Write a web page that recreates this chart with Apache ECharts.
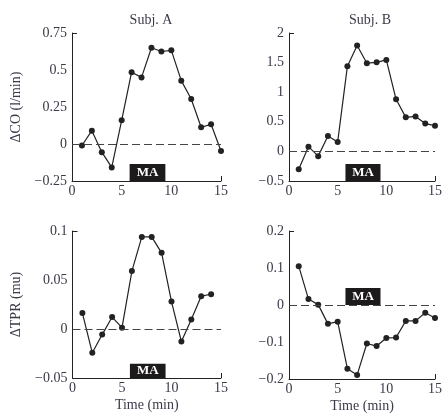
<!DOCTYPE html>
<html>
<head>
<meta charset="utf-8">
<script src="https://cdn.jsdelivr.net/npm/echarts@6/dist/echarts.min.js"></script>
<style>html,body{margin:0;padding:0;background:#fff;}#c{width:445px;height:414px;}</style>
</head>
<body>
<div id="c"></div>
<script>
// Time axis (min)
const timeA = [1,2,3,4,5,6,7,8,9,10,11,12,13,14,15];
const timeB = [1,2,3,4,5,6,7,8,9,10,11,12,13,14,15];
const timeC = [1,2,3,4,5,6,7,8,9,10,11,12,13,14];
const timeD = [1,2,3,4,5,6,7,8,9,10,11,12,13,14,15];
// ΔCO (l/min)
const coA = [-0.01,0.09,-0.055,-0.158,0.16,0.485,0.45,0.65,0.625,0.633,0.428,0.304,0.113,0.133,-0.047];
const coB = [-0.30,0.08,-0.08,0.26,0.16,1.44,1.79,1.49,1.505,1.545,0.88,0.575,0.59,0.47,0.435];
// ΔTPR (mu)
const tprA = [0.0162,-0.0243,-0.0057,0.0122,0.0014,0.0591,0.094,0.094,0.0777,0.028,-0.0128,0.0098,0.0334,0.0355];
const tprB = [0.105,0.016,0.001,-0.051,-0.045,-0.172,-0.189,-0.104,-0.111,-0.089,-0.088,-0.043,-0.043,-0.021,-0.035];
// MA (mental arithmetic) period
const maStart = 5.8, maEnd = 9.4;
// MA box vertical extents per panel
const maBoxA = [-0.25, -0.135];
const maBoxB = [-0.5, -0.214];
const maBoxC = [-0.05, -0.0355];
const maBoxD = [0, 0.046];
// y-axis ranges
const yA = {min:-0.25, max:0.75, interval:0.25};
const yB = {min:-0.5, max:2, interval:0.5};
const yC = {min:-0.05, max:0.1, interval:0.05};
const yD = {min:-0.2, max:0.2, interval:0.1};
const titles = ['Subj. A','Subj. B'];
const yNames = ['ΔCO (l/min)','ΔTPR (mu)'];
const xName = 'Time (min)';

const FONT = 'Liberation Serif';
const TXT = '#3a3a48';
const LINE = '#222';

const grids = [
  {left:72, top:33, width:149, height:148},
  {left:289, top:33, width:151, height:148},
  {left:72.5, top:231, width:148.5, height:147},
  {left:289, top:231, width:151, height:148}
];

function fmt(v){
  let s = String(Math.round(v*1000)/1000);
  return s.replace('-', '\u2212');
}

const yr = [yA,yB,yC,yD];
const xAxes = grids.map((g,i)=>({
  type:'value', gridIndex:i, min:0, max:15, interval:5,
  axisLine:{show:true, onZero:false, lineStyle:{color:LINE, width:1}},
  axisTick:{show:true, inside:true, length:5, customValues:[15], lineStyle:{color:LINE}},
  axisLabel:{color:TXT, fontFamily:FONT, fontSize:14, margin:3},
  splitLine:{show:false},
  name: i>=2 ? xName : '',
  nameLocation:'middle', nameGap:20,
  nameTextStyle:{color:TXT, fontFamily:FONT, fontSize:14}
}));
const yAxes = grids.map((g,i)=>({
  type:'value', gridIndex:i, min:yr[i].min, max:yr[i].max, interval:yr[i].interval,
  axisLine:{show:true, onZero:false, lineStyle:{color:LINE, width:1}},
  axisTick:{show:true, inside:true, length:5, customValues:[yr[i].max], lineStyle:{color:LINE}},
  axisLabel:{color:TXT, fontFamily:FONT, fontSize:14, margin:5, formatter:fmt},
  splitLine:{show:false},
  name: (i===0) ? yNames[0] : (i===2 ? yNames[1] : ''),
  nameLocation:'middle', nameGap:49, nameRotate:90,
  nameTextStyle:{color:TXT, fontFamily:FONT, fontSize:14}
}));

function mk(i, xs, ys, box){
  return {
    type:'line', xAxisIndex:i, yAxisIndex:i,
    data: xs.map((x,k)=>[x, ys[k]]),
    symbol:'circle', symbolSize:6, showSymbol:true,
    lineStyle:{color:LINE, width:1.2},
    itemStyle:{color:LINE},
    animation:false, z:3,
    markLine:{
      silent:true, symbol:'none', label:{show:false},
      lineStyle:{color:'#444', type:[8,4], width:1.2},
      emphasis:{disabled:true},
      data:[{yAxis:0}], animation:false
    },
    markArea:{
      silent:true,
      itemStyle:{color:'#1c1a1b'},
      label:{show:true, position:'inside', color:'#fff', fontFamily:FONT, fontWeight:'bold', fontSize:13, formatter:'MA'},
      data:[[{xAxis:maStart, yAxis:box[0]},{xAxis:maEnd, yAxis:box[1]}]]
    }
  };
}

const chart = echarts.init(document.getElementById('c'));
chart.setOption({
  backgroundColor:'#fff',
  animation:false,
  title:[
    {text:titles[0], left:146, top:8, textAlign:'center', textStyle:{color:TXT, fontFamily:FONT, fontSize:14, fontWeight:'normal'}},
    {text:titles[1], left:365, top:8, textAlign:'center', textStyle:{color:TXT, fontFamily:FONT, fontSize:14, fontWeight:'normal'}}
  ],
  grid:grids,
  xAxis:xAxes,
  yAxis:yAxes,
  series:[
    mk(0, timeA, coA, maBoxA),
    mk(1, timeB, coB, maBoxB),
    mk(2, timeC, tprA, maBoxC),
    mk(3, timeD, tprB, maBoxD)
  ]
});
</script>
</body>
</html>
